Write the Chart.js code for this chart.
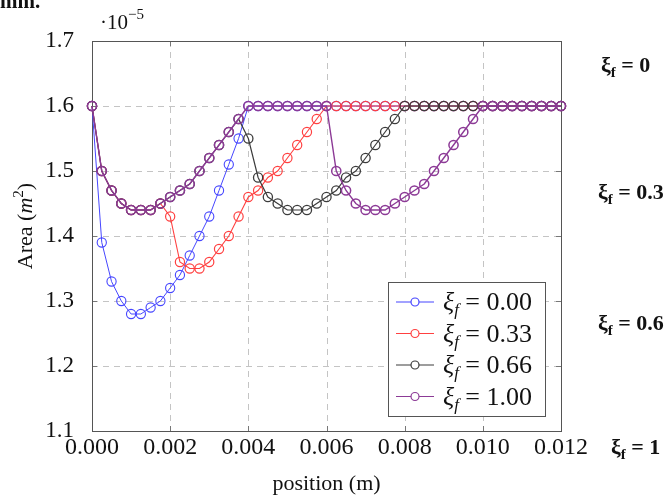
<!DOCTYPE html>
<html>
<head>
<meta charset="utf-8">
<script src="https://cdn.jsdelivr.net/npm/chart.js@4.4.1/dist/chart.umd.min.js"></script>
<style>
  html, body { margin: 0; padding: 0; background: #fff; }
  #wrap { position: relative; width: 667px; height: 499px; }
</style>
</head>
<body>
<div id="wrap"><canvas id="areaChart"></canvas></div>
<script>
// sample positions along the channel (m)
const positions = [
  0, 0.00025, 0.0005, 0.00075, 0.001, 0.00125, 0.0015, 0.00175,
  0.002, 0.00225, 0.0025, 0.00275, 0.003, 0.00325, 0.0035, 0.00375,
  0.004, 0.00425, 0.0045, 0.00475, 0.005, 0.00525, 0.0055, 0.00575,
  0.006, 0.00625, 0.0065, 0.00675, 0.007, 0.00725, 0.0075, 0.00775,
  0.008, 0.00825, 0.0085, 0.00875, 0.009, 0.00925, 0.0095, 0.00975,
  0.01, 0.01025, 0.0105, 0.01075, 0.011, 0.01125, 0.0115, 0.01175,
  0.012
];

// area in units of 1e-5 m^2
const areaXi000 = [
  1.60, 1.39, 1.33, 1.30, 1.28, 1.28, 1.29, 1.30,
  1.32, 1.34, 1.37, 1.40, 1.43, 1.47, 1.51, 1.55,
  1.60, 1.60, 1.60, 1.60, 1.60, 1.60, 1.60, 1.60,
  1.60, 1.60, 1.60, 1.60, 1.60, 1.60, 1.60, 1.60,
  1.60, 1.60, 1.60, 1.60, 1.60, 1.60, 1.60, 1.60,
  1.60, 1.60, 1.60, 1.60, 1.60, 1.60, 1.60, 1.60,
  1.60
];
const areaXi033 = [
  1.60, 1.50, 1.47, 1.45, 1.44, 1.44, 1.44, 1.45,
  1.43, 1.36, 1.35, 1.35, 1.36, 1.38, 1.40, 1.43,
  1.46, 1.47, 1.49, 1.50, 1.52, 1.54, 1.56, 1.58,
  1.60, 1.60, 1.60, 1.60, 1.60, 1.60, 1.60, 1.60,
  1.60, 1.60, 1.60, 1.60, 1.60, 1.60, 1.60, 1.60,
  1.60, 1.60, 1.60, 1.60, 1.60, 1.60, 1.60, 1.60,
  1.60
];
const areaXi066 = [
  1.60, 1.50, 1.47, 1.45, 1.44, 1.44, 1.44, 1.45,
  1.46, 1.47, 1.48, 1.50, 1.52, 1.54, 1.56, 1.58,
  1.55, 1.49, 1.46, 1.45, 1.44, 1.44, 1.44, 1.45,
  1.46, 1.47, 1.49, 1.50, 1.52, 1.54, 1.56, 1.58,
  1.60, 1.60, 1.60, 1.60, 1.60, 1.60, 1.60, 1.60,
  1.60, 1.60, 1.60, 1.60, 1.60, 1.60, 1.60, 1.60,
  1.60
];
const areaXi100 = [
  1.60, 1.50, 1.47, 1.45, 1.44, 1.44, 1.44, 1.45,
  1.46, 1.47, 1.48, 1.50, 1.52, 1.54, 1.56, 1.58,
  1.60, 1.60, 1.60, 1.60, 1.60, 1.60, 1.60, 1.60,
  1.60, 1.50, 1.47, 1.45, 1.44, 1.44, 1.44, 1.45,
  1.46, 1.47, 1.48, 1.50, 1.52, 1.54, 1.56, 1.58,
  1.60, 1.60, 1.60, 1.60, 1.60, 1.60, 1.60, 1.60,
  1.60
];

const xiLabels = ["0.00", "0.33", "0.66", "1.00"];
const xTicks = [0, 0.002, 0.004, 0.006, 0.008, 0.01, 0.012];
const yTicks = [1.1, 1.2, 1.3, 1.4, 1.5, 1.6, 1.7];
const sideLabels = ["0", "0.3", "0.6", "1"];

const SERIF = "'Liberation Serif', 'DejaVu Serif', serif";

function toPoints(values) {
  return positions.map(function (x, i) {
    return { x: x, y: values[i] };
  });
}

// draw a list of text runs ({text, font, dy}) starting at x
function drawRuns(ctx, x, y, runs) {
  runs.forEach(function (r) {
    ctx.font = r.font;
    ctx.fillText(r.text, x, y + (r.dy || 0));
    x += ctx.measureText(r.text).width;
  });
  return x;
}
function runsWidth(ctx, runs) {
  let w = 0;
  runs.forEach(function (r) {
    ctx.font = r.font;
    w += ctx.measureText(r.text).width;
  });
  return w;
}

// later series sit on top, so they get a slightly wider stroke to hide
// the ones underneath where the curves coincide
function makeSet(label, values, color, order, width) {
  return {
    label: label,
    data: toPoints(values),
    borderColor: color,
    backgroundColor: "rgba(0,0,0,0)",
    borderWidth: width,
    pointRadius: 4.6,
    pointBorderWidth: width + 0.1,
    pointBorderColor: color,
    pointBackgroundColor: "rgba(0,0,0,0)",
    tension: 0,
    clip: false,
    order: order,
  };
}

const colors = ["#4646ff", "#ff4040", "#3c3c3c", "#8c3a96"];

// grid, frame, inward tick marks, custom legend and extra texts
const decorations = {
  id: "decorations",
  beforeDatasetsDraw(chart) {
    const ctx = chart.ctx;
    const a = chart.chartArea;
    const xs = chart.scales.x;
    const ys = chart.scales.y;
    ctx.save();
    ctx.strokeStyle = "#c4c4c4";
    ctx.lineWidth = 1;
    ctx.setLineDash([6, 5]);
    xTicks.forEach(function (t) {
      const px = Math.round(xs.getPixelForValue(t)) + 0.5;
      ctx.beginPath();
      ctx.moveTo(px, a.top); ctx.lineTo(px, a.bottom);
      ctx.stroke();
    });
    yTicks.forEach(function (t) {
      const py = Math.round(ys.getPixelForValue(t)) + 0.5;
      ctx.beginPath();
      ctx.moveTo(a.left, py); ctx.lineTo(a.right, py);
      ctx.stroke();
    });
    ctx.setLineDash([]);
    ctx.strokeStyle = "#777";
    xTicks.forEach(function (t) {
      const px = Math.round(xs.getPixelForValue(t)) + 0.5;
      ctx.beginPath();
      ctx.moveTo(px, a.top); ctx.lineTo(px, a.top + 5);
      ctx.moveTo(px, a.bottom); ctx.lineTo(px, a.bottom - 5);
      ctx.stroke();
    });
    yTicks.forEach(function (t) {
      const py = Math.round(ys.getPixelForValue(t)) + 0.5;
      ctx.beginPath();
      ctx.moveTo(a.left, py); ctx.lineTo(a.left + 5, py);
      ctx.moveTo(a.right, py); ctx.lineTo(a.right - 5, py);
      ctx.stroke();
    });
    ctx.strokeStyle = "#555";
    ctx.strokeRect(Math.round(a.left) + 0.5, Math.round(a.top) + 0.5,
      Math.round(a.right - a.left), Math.round(a.bottom - a.top));
    ctx.restore();
  },
  afterDraw(chart) {
    const ctx = chart.ctx;
    const a = chart.chartArea;
    ctx.save();
    ctx.textBaseline = "alphabetic";
    ctx.textAlign = "left";

    // legend
    const lx = 388, ly = 282, lw = 157, lh = 134;
    ctx.fillStyle = "#fff";
    ctx.fillRect(lx, ly, lw, lh);
    ctx.strokeStyle = "#555";
    ctx.lineWidth = 1;
    ctx.strokeRect(lx + 0.5, ly + 0.5, lw, lh);
    chart.data.datasets.forEach(function (ds, i) {
      const cy = ly + 20 + i * 31.5;
      ctx.strokeStyle = ds.borderColor;
      ctx.lineWidth = 1.2;
      ctx.beginPath();
      ctx.moveTo(lx + 8, cy); ctx.lineTo(lx + 46, cy);
      ctx.stroke();
      ctx.fillStyle = "#fff";
      ctx.beginPath();
      ctx.arc(lx + 27, cy, 4, 0, Math.PI * 2);
      ctx.fill();
      ctx.stroke();
      ctx.fillStyle = "#111";
      drawRuns(ctx, lx + 55, cy + 8, [
        { text: "ξ", font: "italic 26px " + SERIF },
        { text: "f", font: "italic 17px " + SERIF, dy: 5 },
        { text: " = " + xiLabels[i], font: "26px " + SERIF },
      ]);
    });

    // axis titles
    ctx.fillStyle = "#111";
    ctx.textAlign = "center";
    ctx.font = "22px " + SERIF;
    ctx.fillText("position (m)", (a.left + a.right) / 2, 490);
    ctx.textAlign = "left";

    ctx.save();
    ctx.translate(32, (a.top + a.bottom) / 2 - 10);
    ctx.rotate(-Math.PI / 2);
    const yRuns = [
      { text: "Area (", font: "22px " + SERIF },
      { text: "m", font: "italic 22px " + SERIF },
      { text: "2", font: "15px " + SERIF, dy: -9 },
      { text: ")", font: "22px " + SERIF },
    ];
    drawRuns(ctx, -runsWidth(ctx, yRuns) / 2, 0, yRuns);
    ctx.restore();

    // exponent marker
    drawRuns(ctx, 100, 29, [
      { text: "·10", font: "21px " + SERIF },
      { text: "−5", font: "15px " + SERIF, dy: -10 },
    ]);

    // clipped caption text from the page above
    ctx.font = "bold 21px " + SERIF;
    ctx.fillText("mm.", 0, 8);

    // labels from the neighbouring figure
    const sideY = [72, 199, 330, 454];
    const sideX = [601, 598, 598, 611];
    sideLabels.forEach(function (s, i) {
      drawRuns(ctx, sideX[i], sideY[i], [
        { text: "ξ", font: "bold 22px " + SERIF },
        { text: "f", font: "bold 15px " + SERIF, dy: 5 },
        { text: " = " + s, font: "bold 22px " + SERIF },
      ]);
    });
    ctx.restore();
  },
};

new Chart(document.getElementById("areaChart"), {
  type: "line",
  data: {
    datasets: [
      makeSet("ξf = 0.00", areaXi000, colors[0], 3, 1.0),
      makeSet("ξf = 0.33", areaXi033, colors[1], 2, 1.1),
      makeSet("ξf = 0.66", areaXi066, colors[2], 1, 1.2),
      makeSet("ξf = 1.00", areaXi100, colors[3], 0, 1.4),
    ],
  },
  options: {
    responsive: true,
    maintainAspectRatio: false,
    animation: false,
    events: [],
    layout: { padding: { left: 0, top: 41, right: 106, bottom: 0 } },
    plugins: {
      legend: { display: false },
      tooltip: { enabled: false },
    },
    scales: {
      x: {
        type: "linear",
        min: 0,
        max: 0.012,
        afterBuildTicks: function (axis) {
          axis.ticks = xTicks.map(function (v) { return { value: v }; });
        },
        afterFit: function (axis) { axis.height = 68; },
        ticks: {
          padding: -6,
          maxRotation: 0,
          color: "#111",
          font: { family: SERIF, size: 24 },
          callback: function (value) { return value.toFixed(3); },
        },
        grid: { display: false },
        border: { display: false },
      },
      y: {
        type: "linear",
        min: 1.1,
        max: 1.7,
        afterBuildTicks: function (axis) {
          axis.ticks = yTicks.map(function (v) { return { value: v }; });
        },
        afterFit: function (axis) { axis.width = 92; },
        ticks: {
          padding: 10,
          color: "#111",
          font: { family: SERIF, size: 23 },
          callback: function (value) { return value.toFixed(1); },
        },
        grid: { display: false },
        border: { display: false },
      },
    },
  },
  plugins: [decorations],
});
</script>
</body>
</html>
